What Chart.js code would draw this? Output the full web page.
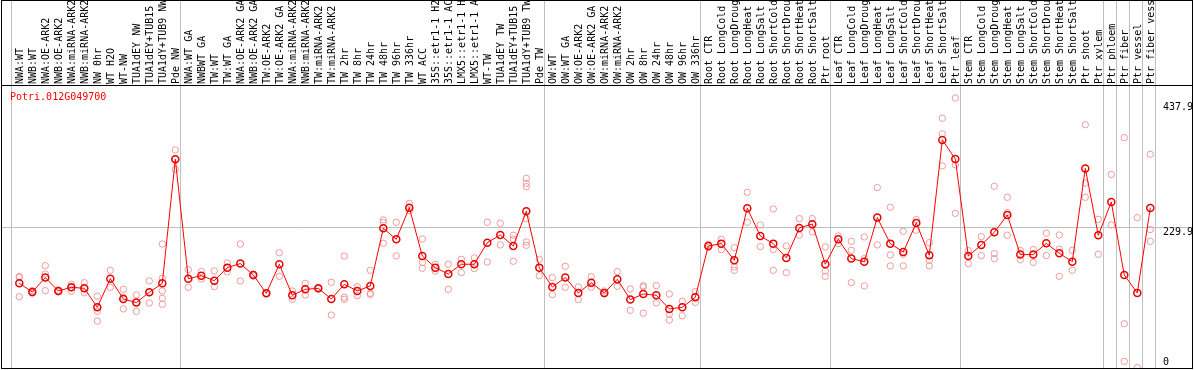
<!DOCTYPE html>
<html>
<head>
<meta charset="utf-8">
<style>
  html, body { margin: 0; padding: 0; background: #fff; }
  canvas { display: block; }
</style>
<script src="https://cdn.jsdelivr.net/npm/chart.js@4.4.0/dist/chart.umd.min.js"></script>
</head>
<body>
<canvas id="chart" width="1194" height="370"></canvas>
<script>
// Expression profile of one gene across tissues / treatments.

const GENE = 'Potri.012G049700';

const categories = [
  'NWA:WT', 'NWB:WT', 'NWA:OE-ARK2', 'NWB:OE-ARK2', 'NWA:miRNA-ARK2', 'NWB:miRNA-ARK2',
  'NW 0hr', 'WT H2O', 'WT-NW', 'TUA1dEY NW', 'TUA1dEY+TUB15', 'TUA1dY+TUB9 NW', 'Pde NW',
  'NWA:WT GA', 'NWBWT GA', 'TW:WT', 'TW:WT GA', 'NWA:OE-ARK2 GA', 'NWB:OE-ARK2 GA',
  'TW:OE-ARK2', 'TW:OE-ARK2 GA', 'NWA:miRNA-ARK2', 'NWB:miRNA-ARK2', 'TW:miRNA-ARK2',
  'TW:miRNA-ARK2', 'TW 2hr', 'TW 8hr', 'TW 24hr', 'TW 48hr', 'TW 96hr', 'TW 336hr',
  'WT ACC', '35S::etr1-1 H2O', '35S::etr1-1 ACC', 'LMX5::etr1-1 H2O', 'LMX5::etr1-1 ACC',
  'WT-TW', 'TUA1dEY TW', 'TUA1dEY+TUB15', 'TUA1dY+TUB9 TW', 'Pde TW',
  'OW:WT', 'OW:WT GA', 'OW:OE-ARK2', 'OW:OE-ARK2 GA', 'OW:miRNA-ARK2', 'OW:miRNA-ARK2',
  'OW 2hr', 'OW 8hr', 'OW 24hr', 'OW 48hr', 'OW 96hr', 'OW 336hr',
  'Root CTR', 'Root LongCold', 'Root LongDrought', 'Root LongHeat', 'Root LongSalt',
  'Root ShortCold', 'Root ShortDrought', 'Root ShortHeat', 'Root ShortSalt', 'Ptr root',
  'Leaf CTR', 'Leaf LongCold', 'Leaf LongDrought', 'Leaf LongHeat', 'Leaf LongSalt',
  'Leaf ShortCold', 'Leaf ShortDrought', 'Leaf ShortHeat', 'Leaf ShortSalt', 'Ptr leaf',
  'Stem CTR', 'Stem LongCold', 'Stem LongDrought', 'Stem LongHeat', 'Stem LongSalt',
  'Stem ShortCold', 'Stem ShortDrought', 'Stem ShortHeat', 'Stem ShortSalt', 'Ptr shoot',
  'Ptr xylem', 'Ptr phloem', 'Ptr fiber', 'Ptr vessel', 'Ptr fiber vessel',
];

// first category index of each sample group (last entry closes the final group)
const groupStarts = [0, 13, 41, 53, 63, 73, 84, 85, 86, 87, 88];

const means = [
  139.0, 124.8, 148.4, 126.5, 132.5, 130.8, 99.6, 146.7, 113.4, 107.4, 124.3, 139.0, 342.7,
  146.7, 151.6, 143.4, 164.8, 171.4, 152.7, 122.6, 170.3, 119.4, 129.2, 130.8, 113.4, 137.4,
  126.5, 134.7, 229.4, 211.3, 263.3, 183.9, 164.8, 154.4, 170.3, 170.3, 205.8, 218.4, 200.4,
  257.3, 164.8,
  133.0, 148.4, 123.2, 140.1, 123.2, 145.6, 112.3, 121.5, 119.4, 97.0, 99.6, 116.1,
  200.4, 204.2, 176.9, 262.2, 216.8, 204.2, 180.8, 230.0, 236.2, 170.3,
  211.3, 179.6, 174.6, 246.9, 204.2, 190.5, 238.1, 185.1, 374.5, 343.2,
  183.9, 202.0, 222.8, 251.3, 186.2, 186.2, 204.7, 188.3, 174.6, 327.7, 217.9,
  272.4, 152.7, 123.2, 262.8,
];

const replicates = [
  [150.5, 148.4, 117.2], [127, 124, 123], [168.1, 154.4, 127.0], [128, 126, 125],
  [137.4, 132, 126], [140.1, 130.8, 123.4], [118, 100, 93, 77], [160.4, 132.5],
  [129.2, 116.1, 97.0], [120.0, 107.4, 93.0], [142.9, 124.3, 106.8],
  [203.6, 147.3, 126.5, 114.5, 104.6], [358.0, 343, 326.3],
  [161.5, 132.5], [158.3, 146.2], [159.3, 133.6], [172.5, 157.7], [203.6, 142.9],
  [154, 151], [123, 122], [189.4, 150.5], [126.5, 112.8], [139.0, 119.9], [132, 130],
  [140.7, 87.0], [183.9, 116.1, 112.8], [133.6, 118.8], [160.4, 122.6, 120.9],
  [243.1, 239.2, 204.7], [239.2, 183.9], [270.4, 258.4], [211.8, 173.5, 163.7],
  [170.3, 159.3], [170.3, 129.2], [178.5, 156.6], [180.8, 163.3], [239.2, 174.1],
  [237.6, 202.0], [217.9, 211.3, 175.2], [311.5, 303.3, 297.8, 245.3, 207.0, 201.5],
  [178.5, 151.6],
  [148.4, 120.5], [167.0, 132.5], [133.0, 112.3], [149.9, 132.5], [126.5, 121.5],
  [158.3, 134.1], [129.8, 94.7], [135, 133, 90], [135.2, 106.8], [121.5, 88.6, 78.7],
  [109.6, 85.9], [125.4, 107.8],
  [203.1, 197.6], [211.3, 194.4], [197.6, 165.9, 160.4], [288.5, 239.2], [234.9, 199.3],
  [261.1, 194.4, 160.4], [200.4, 156.6], [245.3, 218], [245.3, 223.4], [198.8, 159.3, 150.5],
  [216.8, 204.2], [208.0, 193.2, 140.1], [215.1, 179.6, 134.7], [296.2, 202.0],
  [263.9, 185.6, 167.6], [224.5, 186.7, 167.6], [243.6, 226.2], [205.8, 176.9, 167.6],
  [410.1, 384.4, 331.9], [443.3, 333.5, 254.0],
  [192.7, 171.4], [215.7, 184.5], [298.3, 187.8, 179.6], [280.3, 255.1, 217.9],
  [193.2, 177.9], [194.4, 173.5], [221.3, 184.5], [218.4, 195.1, 150.5], [193.2, 160.4],
  [399.4, 303.6, 280.3], [244.2, 186.7],
  [317.7, 234.9], [378.3, 72.7, 10.9], [246.9, 0.5], [350.9, 227.3, 208.0],
];

const yTicks = [0, 229.9, 437.9];

const FONT = 'DejaVu Sans Mono';

const meanPoints = means.map((v, i) => ({ x: i, y: v }));
const repPoints = replicates.flatMap((vals, i) => vals.map(v => ({ x: i, y: v })));

// separators, value labels, title and frame
const decor = {
  id: 'decor',
  beforeDatasetsDraw(chart) {
    const { ctx, chartArea: a, scales: { x } } = chart;
    ctx.save();
    ctx.strokeStyle = '#c0c0c0';
    ctx.lineWidth = 1;
    ctx.beginPath();
    for (const s of groupStarts) {
      const px = Math.round(x.getPixelForValue(s - 0.64)) + 0.5;
      ctx.moveTo(px, 0);
      ctx.lineTo(px, a.bottom);
    }
    ctx.stroke();
    ctx.restore();
  },
  afterDraw(chart) {
    const { ctx, chartArea: a, scales: { y } } = chart;
    ctx.save();
    ctx.font = `10px "${FONT}"`;
    ctx.fillStyle = '#000';
    ctx.textAlign = 'left';
    ctx.textBaseline = 'middle';
    for (const t of yTicks) {
      const py = y.getPixelForValue(t);
      const dy = t === 0 ? -6 : (t > 300 ? 6 : 4);
      ctx.fillText(String(t), a.right - 29, py + dy);
    }
    ctx.fillStyle = '#ff0000';
    ctx.fillText(GENE, a.left + 8, a.top + 11);

    ctx.strokeStyle = '#000';
    ctx.lineWidth = 1;
    ctx.strokeRect(a.left - 0.5, 0.5, a.right - a.left + 1, a.bottom);
    ctx.beginPath();
    ctx.moveTo(a.left, a.top - 0.5);
    ctx.lineTo(a.right, a.top - 0.5);
    ctx.stroke();
    ctx.restore();
  },
};

new Chart(document.getElementById('chart'), {
  data: {
    datasets: [
      {
        type: 'line', label: 'mean', data: meanPoints,
        borderColor: '#ff0000', borderWidth: 1, tension: 0,
        pointRadius: 3.5, pointBorderWidth: 1.5,
        pointBorderColor: '#e80000', pointBackgroundColor: 'rgba(255,255,255,0)',
        order: 1,
      },
      {
        type: 'scatter', label: 'replicates', data: repPoints,
        showLine: false, pointRadius: 3.2, pointBorderWidth: 1,
        pointBorderColor: '#f09a9a', pointBackgroundColor: 'rgba(255,255,255,0)',
        order: 2,
      },
    ],
  },
  options: {
    responsive: false, animation: false, devicePixelRatio: 1,
    layout: { autoPadding: false, padding: { left: 2, right: 2, top: 0, bottom: 2 } },
    plugins: { legend: { display: false }, tooltip: { enabled: false } },
    scales: {
      x: {
        type: 'linear', position: 'top', min: -1.331, max: 90.208,
        afterBuildTicks: s => { s.ticks = categories.map((_, i) => ({ value: i })); },
        afterFit: s => { s.height = 86; },
        grid: { display: false, drawTicks: false },
        border: { display: false },
        ticks: {
          autoSkip: false, minRotation: 90, maxRotation: 90, padding: 2, labelOffset: 13,
          color: '#000', font: { family: FONT, size: 10 },
          callback: (v, i) => categories[i],
        },
      },
      y: {
        type: 'linear', position: 'right', min: 0, max: 463,
        afterBuildTicks: s => { s.ticks = yTicks.map(v => ({ value: v })); },
        afterFit: s => { s.width = 0; },
        border: { display: false },
        grid: {
          drawTicks: false, lineWidth: 1,
          color: c => (c.tick && c.tick.value === 229.9 ? '#c0c0c0' : 'rgba(0,0,0,0)'),
        },
        ticks: { display: false },
      },
    },
  },
  plugins: [decor],
});
</script>
</body>
</html>
